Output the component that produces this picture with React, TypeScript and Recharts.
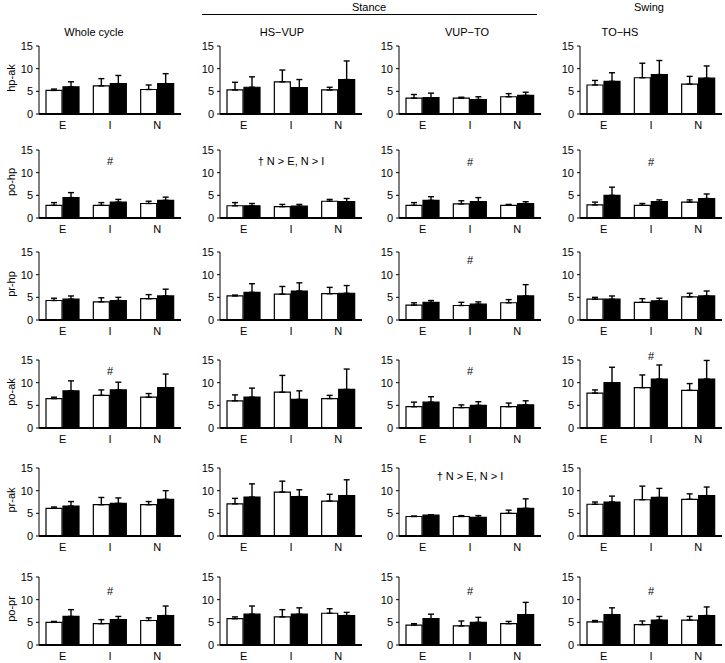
import { BarChart, Bar, XAxis, YAxis, ErrorBar, ReferenceDot } from 'recharts';

const groups = ['E', 'I', 'N'];
const phases = ['Whole cycle', 'HS\u2212VUP', 'VUP\u2212TO', 'TO\u2212HS'];
const pairs = ['hp-ak', 'po-hp', 'pr-hp', 'po-ak', 'pr-ak', 'po-pr'];
const yTicks = [0, 5, 10, 15];

// each array: one entry per phase (column), each entry E / I / N
const hpAkOpen = [[5.2, 6.2, 5.4], [5.3, 7.1, 5.3], [3.5, 3.5, 3.8], [6.4, 8.0, 6.6]];
const hpAkOpenSd = [[0.3, 1.6, 1.0], [1.7, 2.6, 0.6], [0.8, 0.2, 0.7], [1.0, 3.2, 1.7]];
const hpAkFilled = [[6.0, 6.7, 6.7], [5.9, 5.8, 7.6], [3.6, 3.2, 4.1], [7.2, 8.7, 7.9]];
const hpAkFilledSd = [[1.1, 1.8, 2.2], [2.3, 1.8, 4.1], [1.0, 0.6, 0.7], [1.9, 3.1, 2.7]];

const poHpOpen = [[2.8, 2.8, 3.2], [2.7, 2.5, 3.7], [2.8, 3.1, 2.8], [2.9, 2.8, 3.5]];
const poHpOpenSd = [[0.6, 0.6, 0.5], [0.7, 0.5, 0.4], [0.6, 0.7, 0.2], [0.6, 0.4, 0.5]];
const poHpFilled = [[4.5, 3.5, 3.9], [2.7, 2.6, 3.6], [3.9, 3.6, 3.2], [5.0, 3.6, 4.3]];
const poHpFilledSd = [[1.1, 0.6, 0.7], [0.5, 0.4, 0.7], [0.8, 0.9, 0.4], [1.8, 0.4, 1.0]];

const prHpOpen = [[4.3, 4.0, 4.7], [5.3, 5.7, 5.8], [3.3, 3.2, 3.8], [4.6, 3.9, 5.1]];
const prHpOpenSd = [[0.5, 0.9, 0.9], [0.2, 1.7, 1.4], [0.5, 0.7, 0.7], [0.4, 0.8, 0.8]];
const prHpFilled = [[4.6, 4.3, 5.3], [6.1, 6.4, 5.9], [3.9, 3.5, 5.3], [4.6, 4.2, 5.3]];
const prHpFilledSd = [[0.7, 0.7, 1.5], [1.9, 1.8, 1.7], [0.4, 0.5, 2.5], [0.7, 0.6, 1.1]];

const poAkOpen = [[6.5, 7.2, 6.8], [6.0, 7.9, 6.5], [4.7, 4.5, 4.7], [7.7, 8.9, 8.3]];
const poAkOpenSd = [[0.3, 1.2, 0.8], [1.3, 3.7, 0.7], [1.0, 0.6, 0.8], [0.7, 2.8, 1.5]];
const poAkFilled = [[8.2, 8.4, 8.9], [6.8, 6.3, 8.5], [5.7, 5.0, 5.1], [10.0, 10.8, 10.8]];
const poAkFilledSd = [[2.2, 1.7, 3.0], [2.0, 1.9, 4.5], [1.2, 0.8, 0.9], [3.4, 3.1, 4.1]];

const prAkOpen = [[6.1, 6.9, 6.9], [7.1, 9.7, 7.7], [4.3, 4.3, 5.0], [7.0, 8.0, 8.1]];
const prAkOpenSd = [[0.3, 1.6, 0.7], [1.2, 2.4, 1.5], [0.1, 0.2, 0.7], [0.5, 3.0, 1.2]];
const prAkFilled = [[6.6, 7.2, 8.1], [8.6, 8.7, 8.9], [4.6, 4.1, 6.1], [7.5, 8.5, 8.9]];
const prAkFilledSd = [[1.0, 1.2, 1.9], [2.9, 1.5, 3.5], [0.1, 0.4, 2.1], [1.3, 2.0, 1.9]];

const poPrOpen = [[5.0, 4.7, 5.4], [5.8, 6.2, 7.0], [4.4, 4.2, 4.7], [5.1, 4.5, 5.5]];
const poPrOpenSd = [[0.2, 0.9, 0.6], [0.4, 1.6, 1.0], [0.3, 1.1, 0.5], [0.3, 0.8, 0.8]];
const poPrFilled = [[6.3, 5.6, 6.5], [6.8, 6.8, 6.5], [5.8, 5.0, 6.7], [6.7, 5.5, 6.5]];
const poPrFilledSd = [[1.5, 0.7, 2.1], [1.8, 1.4, 0.7], [1.0, 1.1, 2.7], [1.5, 0.8, 1.9]];

const dag = '\u2020 N > E, N > I';
const notes = [
  ['', '', '', ''],
  ['#', dag, '#', '#'],
  ['', '', '#', ''],
  ['#', '', '#', '#'],
  ['', '', dag, ''],
  ['#', '', '#', '#'],
];
const noteLevels = [
  [0, 0, 0, 0],
  [12.6, 12.6, 12.4, 12.4],
  [0, 0, 13.2, 0],
  [12.5, 0, 12.5, 15.9],
  [0, 0, 13.3, 0],
  [11.9, 0, 11.9, 11.9],
];

const rows = [
  [hpAkOpen, hpAkOpenSd, hpAkFilled, hpAkFilledSd],
  [poHpOpen, poHpOpenSd, poHpFilled, poHpFilledSd],
  [prHpOpen, prHpOpenSd, prHpFilled, prHpFilledSd],
  [poAkOpen, poAkOpenSd, poAkFilled, poAkFilledSd],
  [prAkOpen, prAkOpenSd, prAkFilled, prAkFilledSd],
  [poPrOpen, poPrOpenSd, poPrFilled, poPrFilledSd],
];

const plotX = [39, 220, 399, 580];
const plotTop = [46, 150, 252, 360, 468, 577];
const titleX = [94, 282, 467, 620];
const FONT = '"Liberation Sans", Arial, sans-serif';

const Panel = ({ r, c }: { r: number; c: number }) => {
  const [open, openSd, filled, filledSd] = rows[r];
  const data = groups.map((g, i) => ({
    g,
    o: open[c][i],
    oe: [0, openSd[c][i]],
    f: filled[c][i],
    fe: [0, filledSd[c][i]],
  }));
  const note = notes[r][c];
  return (
    <div style={{ position: 'absolute', left: plotX[c] - 34, top: plotTop[r] - 10 }}>
      <BarChart
        width={180}
        height={100}
        data={data}
        margin={{ top: 10, right: 4, bottom: 0, left: 0 }}
        barSize={16}
        barGap={1}
      >
        <XAxis
          dataKey='g'
          tickLine={false}
          axisLine={{ stroke: '#000', strokeWidth: 1.8 }}
          tick={{ fill: '#000', fontSize: 11 }}
          tickSize={4}
          tickMargin={3}
          height={22}
          interval={0}
        />
        <YAxis
          width={34}
          domain={[0, 15]}
          ticks={yTicks}
          axisLine={{ stroke: '#000', strokeWidth: 1 }}
          tickLine={{ stroke: '#000' }}
          tick={{ fill: '#000', fontSize: 11 }}
          tickSize={3}
          tickMargin={3}
          allowDataOverflow
        />
        <Bar dataKey='o' fill='#fff' stroke='#000' strokeWidth={1.2} isAnimationActive={false}>
          <ErrorBar dataKey='oe' direction='y' width={3} stroke='#000' strokeWidth={1.4} />
        </Bar>
        <Bar dataKey='f' fill='#000' stroke='#000' strokeWidth={1.2} isAnimationActive={false}>
          <ErrorBar dataKey='fe' direction='y' width={3} stroke='#000' strokeWidth={1.4} />
        </Bar>
        {note && (
          <ReferenceDot
            x='I'
            y={noteLevels[r][c]}
            r={0}
            fill='none'
            stroke='none'
            ifOverflow='visible'
            label={{ value: note, position: 'center', fill: '#000', fontSize: 11 }}
          />
        )}
      </BarChart>
    </div>
  );
};

export default function App() {
  return (
    <div
      style={{
        position: 'absolute',
        left: 0,
        top: 0,
        width: 725,
        height: 663,
        background: '#fff',
        fontFamily: FONT,
      }}
    >
      <svg width={725} height={663} style={{ position: 'absolute', left: 0, top: 0 }}>
        <text x={369} y={7} fontSize={11} textAnchor='middle' dominantBaseline='central'>
          Stance
        </text>
        <line x1={202} x2={537} y1={14.5} y2={14.5} stroke='#000' strokeWidth={1} />
        <text x={649} y={7} fontSize={11} textAnchor='middle' dominantBaseline='central'>
          Swing
        </text>
        {phases.map((p, i) => (
          <text key={p} x={titleX[i]} y={32} fontSize={11} textAnchor='middle' dominantBaseline='central'>
            {p}
          </text>
        ))}
        {pairs.map((p, i) => (
          <text
            key={p}
            x={11}
            y={plotTop[i] + 32}
            fontSize={11}
            textAnchor='middle'
            dominantBaseline='central'
            transform={`rotate(-90 11 ${plotTop[i] + 32})`}
          >
            {p}
          </text>
        ))}
      </svg>
      {pairs.map((p, r) => phases.map((ph, c) => <Panel key={`${p}-${ph}`} r={r} c={c} />))}
    </div>
  );
}
